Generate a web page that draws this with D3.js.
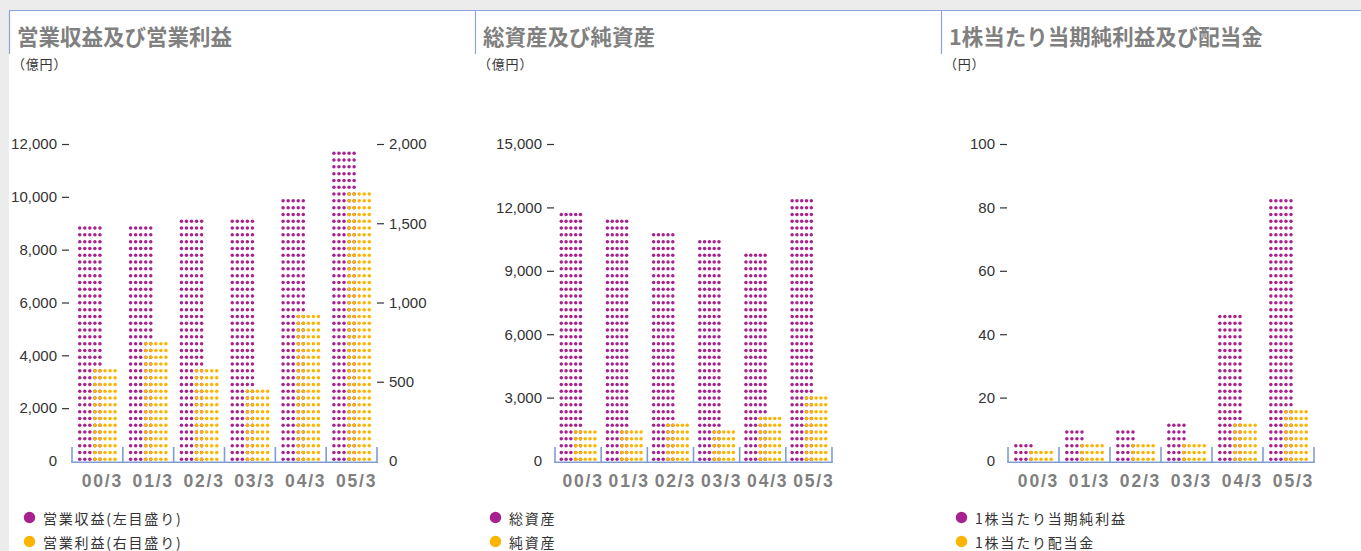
<!DOCTYPE html>
<html>
<head>
<meta charset="utf-8">
<script src="https://cdn.jsdelivr.net/npm/d3@7"></script>
<style>
  html, body { margin: 0; padding: 0; background: #ececec; }
  svg { display: block; }
</style>
</head>
<body>
<svg id="chart" width="1361" height="551"></svg>
<script>
// Fiscal periods (year/month of fiscal year end)
const periods = ["00/3", "01/3", "02/3", "03/3", "04/3", "05/3"];

// 営業収益 (億円, left scale) and 営業利益 (億円, right scale)
const operatingRevenue = [8880, 8870, 9140, 9150, 9910, 11710];
const operatingIncome = [578, 750, 575, 452, 920, 1700];

// 総資産 and 純資産 (億円)
const totalAssets = [11745, 11420, 10780, 10460, 9815, 12390];
const netAssets = [1430, 1450, 1760, 1440, 2080, 3050];

// 1株当たり当期純利益 and 1株当たり配当金 (円)
const netIncomePerShare = [5.4, 9.7, 9.6, 11.8, 46.1, 82.7];
const dividendPerShare = [3, 5, 5, 5, 11, 16];

// Axis tick values
const revenueTicks = [0, 2000, 4000, 6000, 8000, 10000, 12000];
const incomeTicks = [0, 500, 1000, 1500, 2000];
const assetTicks = [0, 3000, 6000, 9000, 12000, 15000];
const perShareTicks = [0, 20, 40, 60, 80, 100];

const PURPLE = "#a8228f";
const ORANGE = "#fbb400";
const FRAME_BLUE = "#8aa6d8";
const AXIS_BLUE = "#7f9dd2";
const TEXT = "#333333";
const TITLE_GRAY = "#808080";
const NUM_FONT = "'Liberation Sans', Arial, sans-serif";
const JP_FONT = "'Noto Sans CJK JP', 'Noto Sans', sans-serif";

const svg = d3.select("#chart");
const W = 1361, H = 551;

// page background and white panel area
svg.append("rect").attr("width", W).attr("height", H).attr("fill", "#ececec");
svg.append("rect").attr("x", 9).attr("y", 10).attr("width", W - 9).attr("height", H - 10).attr("fill", "#ffffff");

// header frame: continuous top rule, short dividers
svg.append("line")
  .attr("x1", 9).attr("x2", W).attr("y1", 10.5).attr("y2", 10.5)
  .attr("stroke", FRAME_BLUE).attr("stroke-width", 1.2);
[9.5, 475.5, 941.5].forEach(x => {
  svg.append("line")
    .attr("x1", x).attr("x2", x).attr("y1", 10).attr("y2", 54)
    .attr("stroke", FRAME_BLUE).attr("stroke-width", 1.2);
});

const Y0 = 461, YTOP = 144;
const ROW = 6.8, R = 1.75;

const panels = [
  {
    left: 9, title: "営業収益及び営業利益", unit: "（億円）",
    primary: operatingRevenue, secondary: operatingIncome,
    primaryDomain: [0, 12000], primaryTicks: revenueTicks,
    secondaryDomain: [0, 2000], secondaryTicks: incomeTicks,
    band: [72, 377], dx: 5.05, primaryCols: [5, 5, 5, 5, 5, 5],
    leftAxisX: 69, rightAxisX: 377,
    legend: ["営業収益(左目盛り)", "営業利益(右目盛り)"]
  },
  {
    left: 475, title: "総資産及び純資産", unit: "（億円）",
    primary: totalAssets, secondary: netAssets,
    primaryDomain: [0, 15000], primaryTicks: assetTicks,
    secondaryDomain: null,
    band: [555, 832], dx: 4.8, primaryCols: [5, 5, 5, 5, 5, 5],
    leftAxisX: 554,
    legend: ["総資産", "純資産"]
  },
  {
    left: 941, title: "1株当たり当期純利益及び配当金", unit: "（円）",
    primary: netIncomePerShare, secondary: dividendPerShare,
    primaryDomain: [0, 100], primaryTicks: perShareTicks,
    secondaryDomain: null,
    band: [1008, 1314], dx: 5.05, primaryCols: [4, 4, 4, 4, 5, 5],
    leftAxisX: 1007,
    legend: ["1株当たり当期純利益", "1株当たり配当金"]
  }
];

function styleAxis(g) {
  g.select(".domain").remove();
  g.selectAll(".tick line").attr("stroke", TEXT).attr("stroke-width", 1.2);
  g.selectAll(".tick text")
    .attr("fill", TEXT)
    .style("font-family", NUM_FONT)
    .style("font-size", "15px");
  g.selectAll(".tick").filter(d => d === 0).select("line").remove();
}

// a bar drawn as a grid of dots, bottom-aligned on the baseline
function dotBar(g, x0, cols, height, dx, color) {
  const rows = Math.max(0, Math.round((height + 2 * R) / ROW));
  const cells = [];
  for (let r = 0; r < rows; r++) {
    for (let c = 0; c < cols; c++) cells.push([x0 + c * dx, Y0 - R - r * ROW]);
  }
  g.append("g").selectAll("circle").data(cells).join("circle")
    .attr("cx", d => d[0]).attr("cy", d => d[1]).attr("r", R)
    .attr("fill", color);
}

panels.forEach(p => {
  const g = svg.append("g");

  // title and unit
  g.append("text")
    .attr("x", p.left + 8).attr("y", 45)
    .attr("fill", TITLE_GRAY)
    .style("font-family", JP_FONT).style("font-weight", 700).style("font-size", "21.5px")
    .text(p.title);
  g.append("text")
    .attr("x", p.left + 3).attr("y", 68.5)
    .attr("fill", TEXT)
    .style("font-family", JP_FONT).style("font-size", "13px")
    .style("letter-spacing", "0.8px")
    .text(p.unit);

  const x = d3.scaleBand().domain(periods).range(p.band);
  const yP = d3.scaleLinear().domain(p.primaryDomain).range([Y0, YTOP]);
  const yS = p.secondaryDomain
    ? d3.scaleLinear().domain(p.secondaryDomain).range([Y0, YTOP])
    : yP;

  // left axis
  const la = g.append("g")
    .attr("transform", `translate(${p.leftAxisX},0)`)
    .call(d3.axisLeft(yP).tickValues(p.primaryTicks).tickSize(7).tickPadding(5).tickFormat(d3.format(",")));
  styleAxis(la);

  // right axis (operating income)
  if (p.secondaryDomain) {
    const ra = g.append("g")
      .attr("transform", `translate(${p.rightAxisX},0)`)
      .call(d3.axisRight(yS).tickValues(p.secondaryTicks).tickSize(7).tickPadding(5).tickFormat(d3.format(",")));
    styleAxis(ra);
  }

  // dotted bars
  const bw = x.bandwidth();
  periods.forEach((per, i) => {
    const startX = x(per) + (bw - 7 * p.dx) / 2;
    dotBar(g, startX, p.primaryCols[i], Y0 - yP(p.primary[i]), p.dx, PURPLE);
    dotBar(g, startX + 3 * p.dx, 5, Y0 - yS(p.secondary[i]), p.dx, ORANGE);
  });

  // category axis: baseline with upward dividers
  const bounds = periods.map(d => x(d)).concat([p.band[1]]);
  g.append("line")
    .attr("x1", p.band[0] - 0.75).attr("x2", p.band[1] + 0.75)
    .attr("y1", 462.2).attr("y2", 462.2)
    .attr("stroke", AXIS_BLUE).attr("stroke-width", 1.6);
  g.append("g").selectAll("line").data(bounds).join("line")
    .attr("x1", d => d).attr("x2", d => d)
    .attr("y1", 447).attr("y2", 462.2)
    .attr("stroke", AXIS_BLUE).attr("stroke-width", 1.6);

  g.append("g").selectAll("text").data(periods).join("text")
    .attr("x", d => x(d) + bw / 2 + 5)
    .attr("y", 486.5)
    .attr("text-anchor", "middle")
    .attr("fill", TITLE_GRAY)
    .style("font-family", NUM_FONT).style("font-weight", 700).style("font-size", "17.5px")
    .style("letter-spacing", "1.8px")
    .text(d => d);

  // legend
  const lg = g.append("g");
  [PURPLE, ORANGE].forEach((c, i) => {
    const cy = 517.5 + i * 24;
    lg.append("circle")
      .attr("cx", p.left + 20.5).attr("cy", cy).attr("r", 5.7).attr("fill", c);
    lg.append("text")
      .attr("x", p.left + 34).attr("y", cy)
      .attr("dominant-baseline", "central")
      .attr("fill", TEXT)
      .style("font-family", JP_FONT).style("font-size", "14px")
      .style("letter-spacing", "1.8px")
      .text(p.legend[i]);
  });
});
</script>
</body>
</html>
